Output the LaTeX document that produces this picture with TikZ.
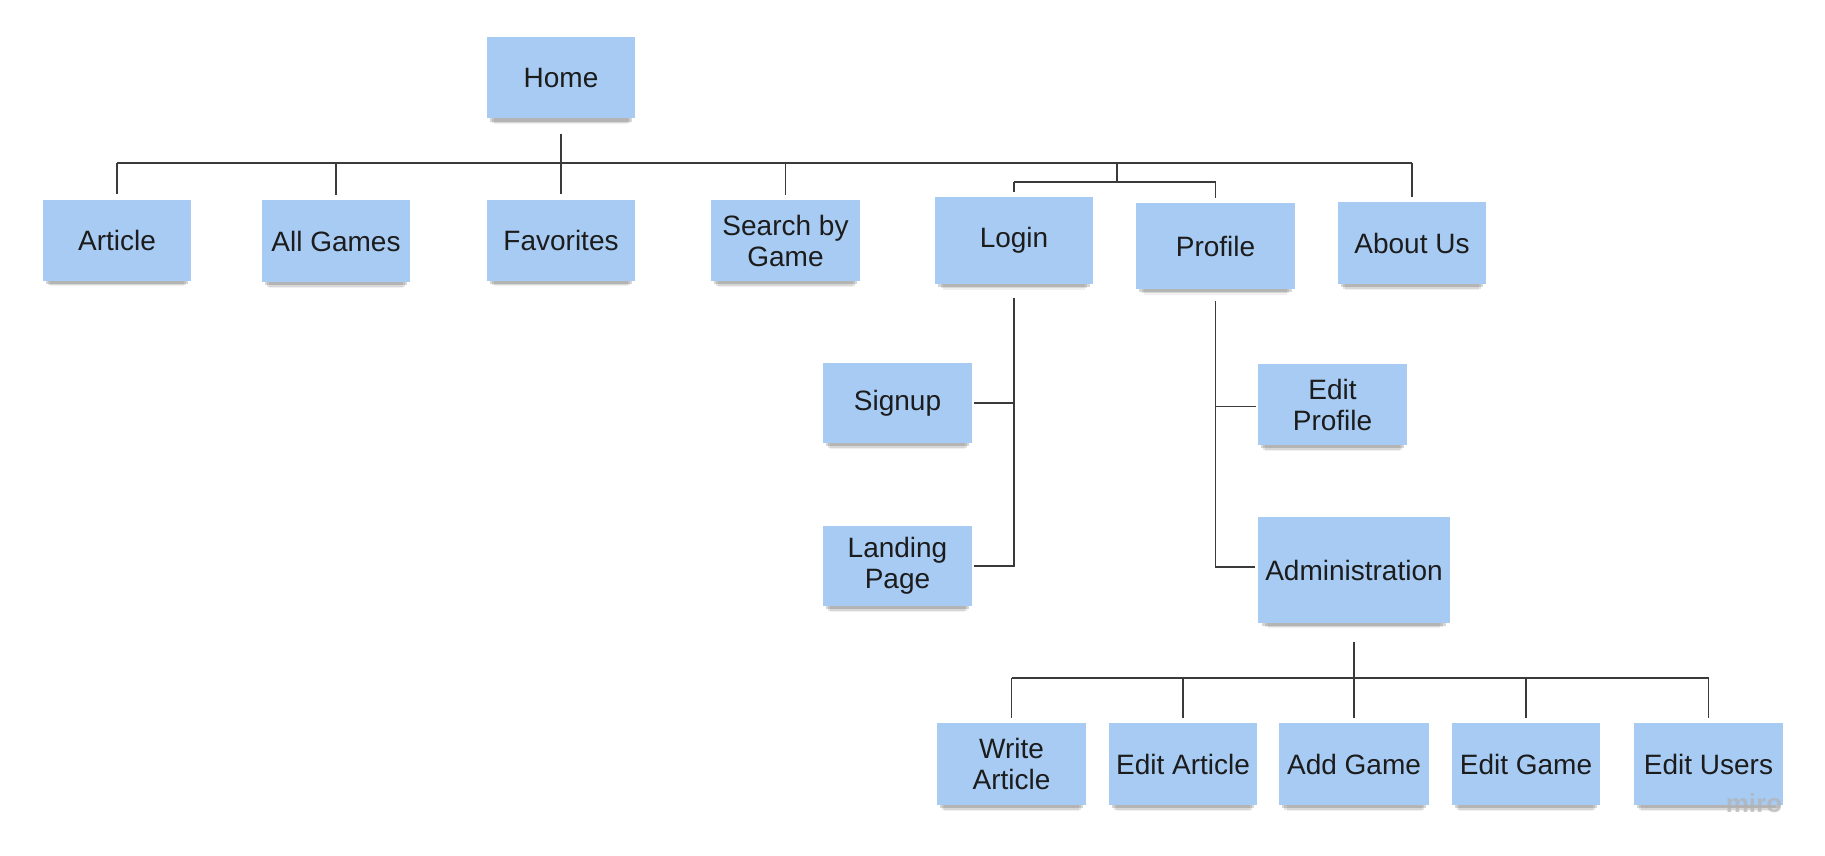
\documentclass[tikz,border=0pt]{standalone}
\usepackage{fontspec}
\setmainfont{Liberation Sans}
\usetikzlibrary{calc,shadows}
\definecolor{notecol}{HTML}{A7CBF3}
\definecolor{txtcol}{HTML}{1C1C1C}
\definecolor{linecol}{HTML}{3A3A3A}
\tikzset{
  note/.style={fill=notecol, text=txtcol, align=center, inner sep=0pt,
    font=\fontsize{14}{15.5}\selectfont,
    general shadow={fill=black, opacity=0.06, shadow yshift=-5.5pt, shadow scale=0.90},
    general shadow={fill=black, opacity=0.10, shadow yshift=-4pt, shadow scale=0.93},
    general shadow={fill=black, opacity=0.16, shadow yshift=-2.5pt, shadow scale=0.96}},
  conn/.style={draw=linecol, line width=0.7pt}
}
\newcommand{\notebox}[5]{\node[note, minimum width=#3*0.5pt, minimum height=#4*0.5pt] (#1) at #2 {#5};}
\begin{document}
\begin{tikzpicture}[x=0.5pt,y=-0.5pt]
\useasboundingbox[fill=white] (0,0) rectangle (1825,856);
% nodes
\notebox{Home}{(561,78)}{148}{81}{Home}
\notebox{Article}{(117,240)}{148}{81}{Article}
\notebox{AllGames}{(336,241)}{148}{82}{All Games}
\notebox{Favorites}{(561,240)}{148}{81}{Favorites}
\notebox{Search}{(785.5,240.5)}{149}{81}{Search by\\Game}
\notebox{Login}{(1014,240.5)}{158}{87}{Login}
\notebox{Profile}{(1215.5,246)}{159}{86}{Profile}
\notebox{About}{(1412,243)}{148}{82}{About Us}
\notebox{Signup}{(897.5,403)}{149}{80}{Signup}
\notebox{Landing}{(897.5,566)}{149}{80}{Landing\\Page}
\notebox{EditProfile}{(1332.5,404.5)}{149}{81}{Edit\\Profile}
\notebox{Admin}{(1354,570)}{192}{106}{Administration}
\notebox{Write}{(1011.5,764)}{149}{82}{Write\\Article}
\notebox{EditArticle}{(1183,764)}{148}{82}{Edit Article}
\notebox{AddGame}{(1354,764)}{150}{82}{Add Game}
\notebox{EditGame}{(1526,764)}{148}{82}{Edit Game}
\notebox{EditUsers}{(1708.5,764)}{149}{82}{Edit Users}
% watermark
\node[text=black!30, opacity=0.7, font=\bfseries\fontsize{13}{13}\selectfont, inner sep=0pt] (miro) at (1754,803) {miro};
% main level connectors
\coordinate (hb) at (561,163);
\coordinate (lb) at (1117,182);
\draw[conn] ($(Home.south)+(0,15)$) -- (hb);
\draw[conn] (Article.north |- hb) -- (About.north |- hb);
\foreach \n in {Article,AllGames,Favorites,Search,About}
  \draw[conn] (\n.north |- hb) -- ($(\n.north)+(0,-5)$);
\draw[conn] (lb |- hb) -- (lb);
\draw[conn] (Login.north |- lb) -- (Profile.north |- lb);
\foreach \n in {Login,Profile}
  \draw[conn] (\n.north |- lb) -- ($(\n.north)+(0,-5)$);
% login branch
\draw[conn] ($(Login.south)+(0,14)$) |- ($(Landing.east)+(2,0)$);
\draw[conn] ($(Signup.east)+(2,0)$) -- (Signup.east -| Login.south);
% profile branch
\coordinate (epc) at ($(EditProfile.west)+(-2,2)$);
\draw[conn] ($(Profile.south)+(0,12)$) |- ($(Admin.west)+(-3,-3)$);
\draw[conn] (epc) -- (epc -| Profile.south);
% admin branch
\coordinate (ab) at (1354,678);
\draw[conn] ($(Admin.south)+(0,19)$) -- (ab);
\draw[conn] (Write.north |- ab) -- (EditUsers.north |- ab);
\foreach \n in {Write,EditArticle,AddGame,EditGame,EditUsers}
  \draw[conn] (\n.north |- ab) -- ($(\n.north)+(0,-5)$);
\end{tikzpicture}
\end{document}
